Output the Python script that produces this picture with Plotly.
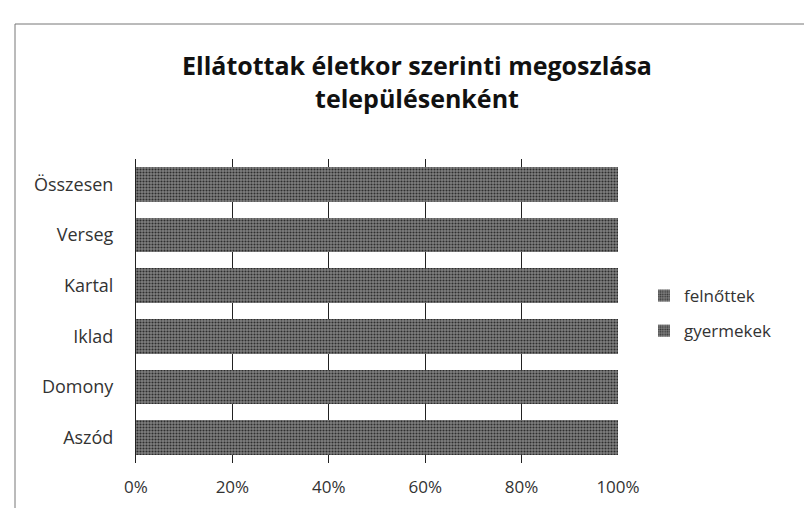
import plotly.graph_objects as go

categories = ["Aszód", "Domony", "Iklad", "Kartal", "Verseg", "Összesen"]
felnottek = [100, 100, 100, 100, 100, 100]
gyermekek = [0, 0, 0, 0, 0, 0]
x_ticks = [0, 20, 40, 60, 80, 100]
x_tick_labels = ["0%", "20%", "40%", "60%", "80%", "100%"]

FONT = "Open Sans, Lato, sans-serif"
bar_pattern = dict(shape=".", fgcolor="#2e2e2e", bgcolor="#808080", size=3, solidity=0.4, fillmode="replace")

fig = go.Figure()
fig.add_trace(go.Bar(
    y=categories, x=gyermekek, name="gyermekek", orientation="h",
    legendgroup="g", legendrank=2,
    marker=dict(color="#6e6e6e", pattern=bar_pattern, line=dict(width=0)),
))
fig.add_trace(go.Bar(
    y=categories, x=felnottek, name="felnőttek", orientation="h",
    legendgroup="f", legendrank=1,
    marker=dict(color="#6e6e6e", pattern=bar_pattern, line=dict(width=0)),
))

L, R, T, B = 128, 202, 151, 53
W, H = 812, 508
pw, ph = W - L - R, H - T - B

def px_x(px):
    return (px - L) / pw

def px_y(py):
    return (H - B - py) / ph

fig.update_layout(
    width=W, height=H,
    margin=dict(l=L, r=R, t=T, b=B),
    barmode="stack",
    bargap=0.31,
    paper_bgcolor="white",
    plot_bgcolor="white",
    font=dict(family=FONT, color="#333333"),
    title=dict(
        text="Ellátottak életkor szerinti megoszlása<br>településenként",
        x=409 / W, xanchor="center", xref="container",
        y=1 - 67 / H, yanchor="top", yref="container",
        font=dict(family=FONT, size=25, color="#111111", weight="bold"),
    ),
    xaxis=dict(
        range=[0, 100], tickvals=x_ticks, ticktext=x_tick_labels,
        showgrid=True, gridcolor="#222222", gridwidth=1,
        zeroline=False, showline=False, ticks="",
        tickfont=dict(size=17, color="#333333"),
        ticklabelstandoff=12, fixedrange=True,
    ),
    yaxis=dict(
        showgrid=False, zeroline=False, showline=True, linecolor="#222222",
        ticks="", tickfont=dict(size=18, color="#333333"),
        ticklabelstandoff=18,
    ),
    legend=dict(
        x=px_x(636), y=px_y(270), xanchor="left", yanchor="top",
        traceorder="grouped",
        font=dict(size=17, color="#333333"),
        tracegroupgap=10, itemwidth=30,
        bgcolor="rgba(0,0,0,0)",
    ),
    shapes=[dict(
        type="rect", xref="paper", yref="paper",
        x0=px_x(7), x1=px_x(830), y0=px_y(506), y1=px_y(16),
        line=dict(color="#777777", width=1), fillcolor="rgba(0,0,0,0)",
        layer="below",
    )],
    showlegend=True,
)

fig.write_html("out.html")
